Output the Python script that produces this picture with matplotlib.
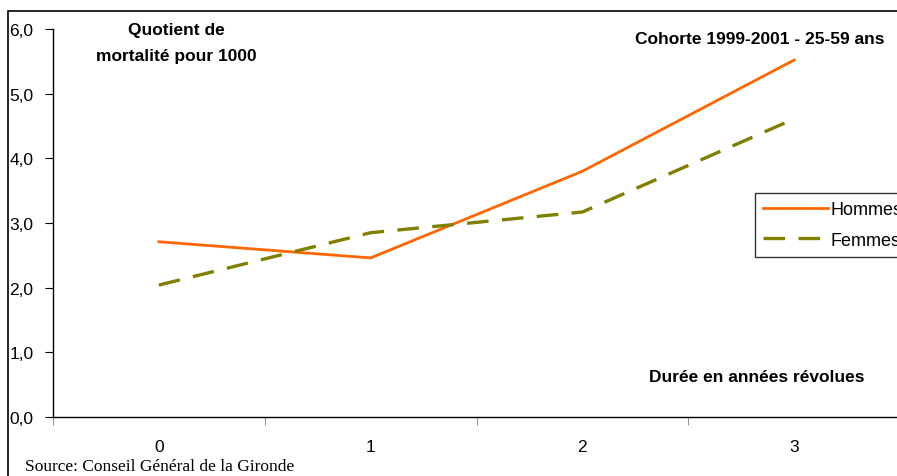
import matplotlib
matplotlib.use("Agg")
import matplotlib.pyplot as plt
from matplotlib.patches import Rectangle
from matplotlib.ticker import FixedLocator, NullFormatter

# data
durees = [0, 1, 2, 3]
hommes = [2.71, 2.46, 3.80, 5.52]
femmes = [2.04, 2.85, 3.17, 4.61]
y_ticks = [0, 1, 2, 3, 4, 5, 6]

NARROW = ["Liberation Sans Narrow", "Liberation Sans", "DejaVu Sans"]

W, H = 897, 477
fig = plt.figure(figsize=(W / 100, H / 100), dpi=100)

# outer frame (cut at right and bottom)
fig.patches.append(Rectangle((8 / W, -0.1), 1.2, 1 - 12 / H + 0.1,
                             transform=fig.transFigure, fill=False,
                             edgecolor="black", linewidth=1.2))

ax = fig.add_axes([53 / W, 59 / H, 847 / W, 388 / H])
ax.patch.set_alpha(0)

ax.plot(durees, hommes, color="#FF6600", lw=2.0, label="Hommes")
ax.plot(durees, femmes, color="#808000", lw=2.4, dashes=(6.5, 4), label="Femmes")

ax.set_xlim(-0.5, 3.5)
ax.set_ylim(0, 6)
ax.set_yticks(y_ticks)
ax.set_yticklabels([f"{v:.1f}".replace(".", ",") for v in y_ticks],
                   fontfamily=NARROW, fontsize=12.5)
ax.xaxis.set_major_locator(FixedLocator(durees))
ax.set_xticklabels([str(d) for d in durees], fontfamily=NARROW, fontsize=12.5)
ax.xaxis.set_minor_locator(FixedLocator([-0.5, 0.5, 1.5, 2.5, 3.5]))
ax.xaxis.set_minor_formatter(NullFormatter())
ax.tick_params(axis="x", which="major", length=0, pad=16)
ax.tick_params(axis="x", which="minor", length=6, color="#808080", direction="out")
ax.tick_params(axis="y", length=6, direction="out", pad=8)
for s in ["top", "right"]:
    ax.spines[s].set_visible(False)
ax.spines["left"].set_linewidth(1)
ax.spines["bottom"].set_linewidth(1)

leg = ax.legend(loc="upper left", bbox_to_anchor=((755 - 53) / 847, (418 - 194) / 388),
                frameon=True, fancybox=False, edgecolor="black", handlelength=3.6,
                handletextpad=0.15, borderaxespad=0, borderpad=0.45, labelspacing=0.75,
                prop={"family": NARROW, "size": 13})
leg.get_frame().set_linewidth(1)

fig.text(176 / W, 1 - 30 / H, "Quotient de", ha="center", va="center",
         fontfamily=NARROW, fontweight="bold", fontsize=12.5)
fig.text(176 / W, 1 - 57 / H, "mortalité pour 1000", ha="center", va="center",
         fontfamily=NARROW, fontweight="bold", fontsize=12.5)
fig.text(884 / W, 1 - 40 / H, "Cohorte 1999-2001 - 25-59 ans", ha="right", va="center",
         fontfamily=NARROW, fontweight="bold", fontsize=12.5)
fig.text(757 / W, 1 - 378 / H, "Durée en années révolues", ha="center", va="center",
         fontfamily=NARROW, fontweight="bold", fontsize=12.5)
fig.text(25 / W, 1 - 467 / H, "Source: Conseil Général de la Gironde", ha="left",
         va="center", fontfamily=["Liberation Serif", "DejaVu Serif"], fontsize=12.5)

fig.savefig("out.png", dpi=100)
